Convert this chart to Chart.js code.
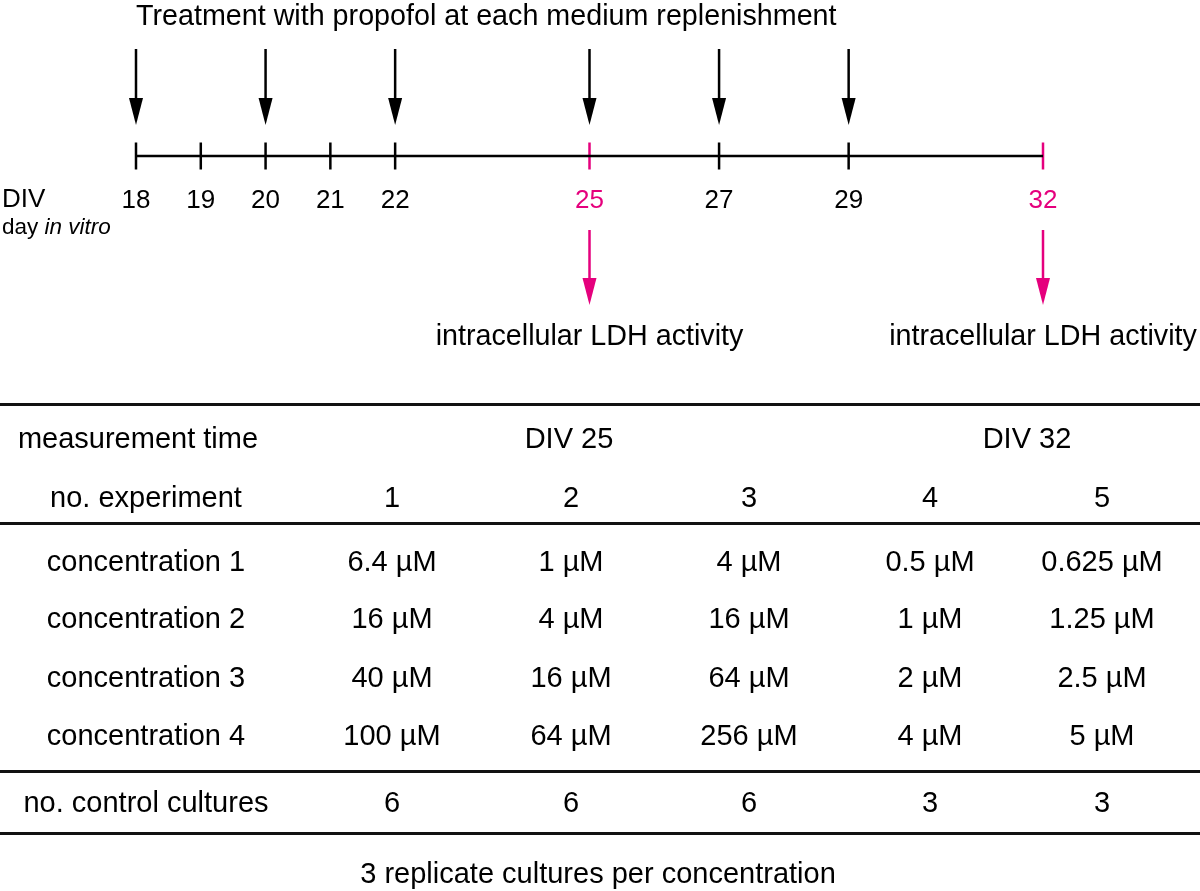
<!DOCTYPE html>
<html>
<head>
<meta charset="utf-8">
<title>Propofol treatment schedule</title>
<script src="https://cdn.jsdelivr.net/npm/chart.js@4.4.1/dist/chart.umd.min.js"></script>
<style>
  html, body { margin: 0; padding: 0; background: #fff; }
  #wrap { position: relative; width: 1200px; height: 891px; overflow: hidden;
          font-family: "Liberation Sans", Arial, Helvetica, sans-serif; color: #000; }
  #timelineChart { position: absolute; left: 0; top: 0; }
  .rule { position: absolute; left: 0; width: 1200px; height: 3px; background: #111; }
  .cell { position: absolute; transform: translate(-50%, -50%); white-space: nowrap;
          font-size: 29px; line-height: 1; }
</style>
</head>
<body>
<div id="wrap">
  <canvas id="timelineChart" width="1200" height="891"></canvas>
  <div id="table"></div>
</div>
<script>
// timeline (days in vitro)
const days = [18, 19, 20, 21, 22, 25, 27, 29, 32];
const treatmentDays = [18, 20, 22, 25, 27, 29];
const measureDays = [25, 32];
const titleText = 'Treatment with propofol at each medium replenishment';
const measureText = 'intracellular LDH activity';

// table
const experiments = ['1', '2', '3', '4', '5'];
const measureTimes = ['DIV 25', 'DIV 32'];
const concentration1 = ['6.4 µM', '1 µM', '4 µM', '0.5 µM', '0.625 µM'];
const concentration2 = ['16 µM', '4 µM', '16 µM', '1 µM', '1.25 µM'];
const concentration3 = ['40 µM', '16 µM', '64 µM', '2 µM', '2.5 µM'];
const concentration4 = ['100 µM', '64 µM', '256 µM', '4 µM', '5 µM'];
const controlCultures = [6, 6, 6, 3, 3];

const PINK = '#e5007d';
const FONT = '"Liberation Sans", Arial, sans-serif';
const LINE_Y = 156;

function drawArrow(c, x, top, tip, headLen, headW, color) {
    c.save();
    c.strokeStyle = color;
    c.fillStyle = color;
    c.lineWidth = 2.5;
    c.beginPath();
    c.moveTo(x, top);
    c.lineTo(x, tip - headLen + 2);
    c.stroke();
    c.beginPath();
    c.moveTo(x - headW / 2, tip - headLen);
    c.lineTo(x + headW / 2, tip - headLen);
    c.lineTo(x, tip);
    c.closePath();
    c.fill();
    c.restore();
}

const timelineDecor = {
    id: 'timelineDecor',
    afterDatasetsDraw(chart) {
        const c = chart.ctx;
        const xs = chart.scales.x;
        const x0 = xs.getPixelForValue(days[0]);

        c.save();
        c.fillStyle = '#000';
        c.textBaseline = 'middle';

        // title
        c.font = '28.7px ' + FONT;
        c.textAlign = 'left';
        c.fillText(titleText, x0, 17);

        // treatment arrows
        treatmentDays.forEach(d => drawArrow(c, xs.getPixelForValue(d), 49, 125, 27, 14, '#000'));

        // day labels
        c.font = '26px ' + FONT;
        c.textAlign = 'center';
        days.forEach(d => {
            c.fillStyle = measureDays.includes(d) ? PINK : '#000';
            c.fillText(String(d), xs.getPixelForValue(d), 201);
        });

        c.fillStyle = '#000';
        c.textAlign = 'left';
        c.fillText('DIV', 2, 200);
        c.font = '22.5px ' + FONT;
        c.fillText('day ', 2, 228);
        const w = c.measureText('day ').width;
        c.font = 'italic 22.5px ' + FONT;
        c.fillText('in vitro', 2 + w, 228);

        // measurement arrows and labels
        c.font = '28.7px ' + FONT;
        c.textAlign = 'center';
        measureDays.forEach(d => {
            const px = xs.getPixelForValue(d);
            drawArrow(c, px, 230, 305, 27, 14, PINK);
            c.fillStyle = '#000';
            c.fillText(measureText, px, 337);
        });
        c.restore();
    }
};

const ctx = document.getElementById('timelineChart').getContext('2d');
const timelineChart = new Chart(ctx, {
    type: 'scatter',
    data: {
        datasets: [{
            type: 'line',
            data: [{x: days[0], y: LINE_Y}, {x: days[days.length - 1], y: LINE_Y}],
            borderColor: '#000',
            borderWidth: 2.5,
            pointRadius: 0,
            clip: false
        }, {
            data: days.map(d => ({x: d, y: LINE_Y})),
            pointStyle: 'line',
            rotation: 90,
            pointRadius: 13.5,
            pointBorderWidth: 2.5,
            pointBorderColor: days.map(d => measureDays.includes(d) ? PINK : '#000'),
            pointBackgroundColor: '#000',
            clip: false
        }]
    },
    options: {
        responsive: false,
        animation: false,
        events: [],
        layout: { autoPadding: false, padding: { left: 136, right: 157, top: 0, bottom: 0 } },
        scales: {
            x: { type: 'linear', min: days[0], max: days[days.length - 1], display: false },
            y: { type: 'linear', min: 0, max: 891, reverse: true, display: false }
        },
        plugins: {
            legend: { display: false },
            tooltip: { enabled: false }
        }
    },
    plugins: [timelineDecor]
});

// the table under the timeline
const table = document.getElementById('table');
const colX = [392, 571, 749, 930, 1102];
const labelX = 146;

function cell(text, x, y) {
    const el = document.createElement('div');
    el.className = 'cell';
    el.textContent = text;
    el.style.left = x + 'px';
    el.style.top = y + 'px';
    table.appendChild(el);
}
function rule(y) {
    const el = document.createElement('div');
    el.className = 'rule';
    el.style.top = (y - 1.5) + 'px';
    table.appendChild(el);
}

[404, 523, 771, 833].forEach(rule);

cell('measurement time', 138, 438);
cell(measureTimes[0], 569, 438);
cell(measureTimes[1], 1027, 438);

cell('no. experiment', labelX, 497);
experiments.forEach((e, i) => cell(e, colX[i], 497));

[concentration1, concentration2, concentration3, concentration4].forEach((row, r) => {
    const y = [561, 618, 677, 735][r];
    cell('concentration ' + (r + 1), labelX, y);
    row.forEach((v, i) => cell(v, colX[i], y));
});

cell('no. control cultures', labelX, 802);
controlCultures.forEach((v, i) => cell(String(v), colX[i], 802));

cell('3 replicate cultures per concentration', 598, 873);
</script>
</body>
</html>
